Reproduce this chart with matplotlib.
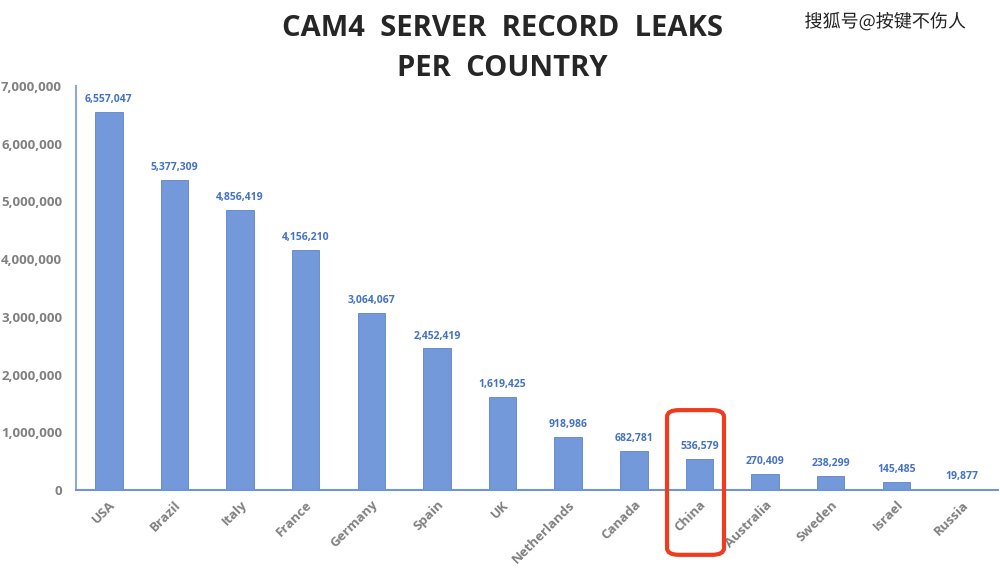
import matplotlib.pyplot as plt
from matplotlib.patches import FancyBboxPatch
from matplotlib.ticker import FuncFormatter
import matplotlib.patheffects as pe

plt.rcParams['font.family'] = ['Open Sans', 'Noto Sans CJK SC', 'DejaVu Sans']

countries = ['USA', 'Brazil', 'Italy', 'France', 'Germany', 'Spain', 'UK',
             'Netherlands', 'Canada', 'China', 'Australia', 'Sweden', 'Israel', 'Russia']
leaks = [6557047, 5377309, 4856419, 4156210, 3064067, 2452419, 1619425,
         918986, 682781, 536579, 270409, 238299, 145485, 19877]
yticks = [0, 1000000, 2000000, 3000000, 4000000, 5000000, 6000000, 7000000]

fig = plt.figure(figsize=(10, 5.72), dpi=100)
ax = fig.add_axes([0.076, 0.1434, 0.922, 0.7063])

x = range(len(countries))
ax.bar(x, leaks, width=0.42, color='#7399da', edgecolor='#5b83cc', linewidth=0.6)

for i, v in enumerate(leaks):
    ax.text(i, v + 120000, f'{v:,}', ha='center', va='bottom',
            fontsize=7.5, fontweight='bold', color='#4472c4')

ax.set_xlim(-0.5, 13.55)
ax.set_ylim(0, 7000000)
ax.set_yticks(yticks)
ax.yaxis.set_major_formatter(FuncFormatter(lambda v, p: f'{int(v):,}'))
ax.set_xticks(list(x))
ax.set_xticklabels(countries, rotation=45, ha='right', rotation_mode='anchor')
ax.tick_params(axis='both', length=0, colors='#808080', labelsize=9.5)
ax.tick_params(axis='x', pad=6)
ax.tick_params(axis='y', pad=10)
for lab in ax.get_xticklabels() + ax.get_yticklabels():
    lab.set_fontweight('bold')

for s in ['top', 'right']:
    ax.spines[s].set_visible(False)
ax.spines['left'].set_color('#8eaadb')
ax.spines['bottom'].set_color('#6e95d6')
ax.spines['left'].set_linewidth(1.5)
ax.spines['bottom'].set_linewidth(1.5)

fig.text(0.502, 0.950, 'CAM4  SERVER  RECORD  LEAKS', ha='center', va='center',
         fontsize=21, fontweight='bold', color='#262626')
fig.text(0.502, 0.880, 'PER  COUNTRY', ha='center', va='center',
         fontsize=21, fontweight='bold', color='#262626')

fig.text(0.885, 0.962, '搜狐号@按键不伤人', ha='center', va='center', fontsize=13,
         color='#222222', family=['Noto Sans CJK SC', 'DejaVu Sans'],
         path_effects=[pe.withStroke(linewidth=2, foreground='white')])

# red box around China
box = FancyBboxPatch((0.667, 0.03), 0.057, 0.253, transform=fig.transFigure,
                     boxstyle='round,pad=0,rounding_size=0.012',
                     fill=False, edgecolor='#f03c1e', linewidth=3)
fig.patches.append(box)

fig.savefig('out.png', dpi=100)
